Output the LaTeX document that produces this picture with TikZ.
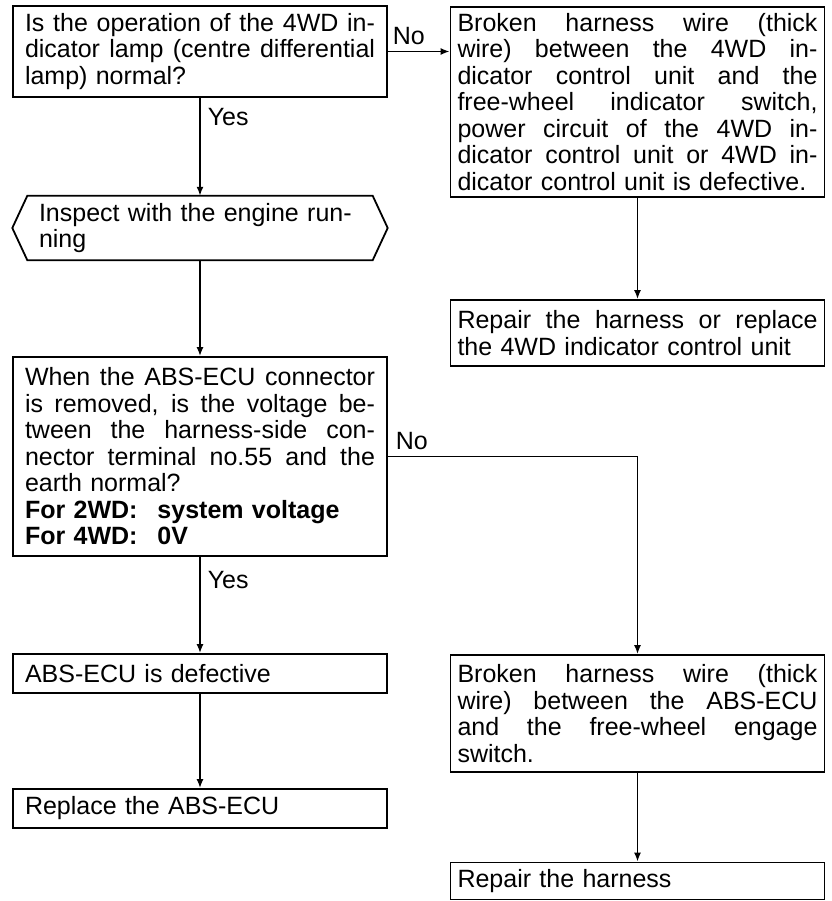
\documentclass[tikz,border=0pt]{standalone}
\usepackage{fontspec}
\setmainfont{Liberation Sans}
\usetikzlibrary{arrows.meta}
\newcommand{\jl}[1]{\makebox[\hsize][s]{\spaceskip=0.28em plus 1fil\relax #1}}
\newcommand{\fsz}{\fontsize{25}{26.5}\selectfont}
\begin{document}
\begin{tikzpicture}[x=1pt,y=-1pt,
  box/.style={draw, line width=1.8pt, rectangle, inner sep=0pt, align=left, minimum width=374pt, font=\fsz},
  lbox/.style={box, text width=350pt},
  rbox/.style={box, text width=360pt},
  conn/.style={line width=1.6pt, -{Latex[length=9pt,width=7pt]}},
  lbl/.style={inner sep=0pt, font=\fsz}]
\fill[white] (0,0) rectangle (831,901);
\useasboundingbox (0,0) rectangle (831,901);

\node[lbox, minimum height=91pt] (q1) at (200,51.5)
  {\jl{Is the operation of the 4WD in-}\\\jl{dicator lamp (centre differential}\\lamp) normal?};
\node[rbox, minimum height=190pt] (r1) at (637.5,102)
  {\jl{Broken harness wire (thick}\\\jl{wire) between the 4WD in-}\\\jl{dicator control unit and the}\\\jl{free-wheel indicator switch,}\\\jl{power circuit of the 4WD in-}\\\jl{dicator control unit or 4WD in-}\\dicator control unit is defective.};
\node[rbox, minimum height=66pt] (r2) at (637.5,333)
  {\jl{Repair the harness or replace}\\the 4WD indicator control unit};
\node[inner sep=0pt, minimum width=375pt, minimum height=64pt, text width=322pt, align=left, font=\fsz] (hex) at (200,228)
  {Inspect with the engine run-\\ning};
\draw[line width=1.8pt] (hex.west) -- ([xshift=15pt]hex.north west) -- ([xshift=-15pt]hex.north east) -- (hex.east) -- ([xshift=-15pt]hex.south east) -- ([xshift=15pt]hex.south west) -- cycle;
\node[lbox, minimum height=199pt] (q2) at (200,456.5)
  {\jl{When the ABS-ECU connector}\\\jl{is removed, is the voltage be-}\\\jl{tween the harness-side con-}\\\jl{nector terminal no.55 and the}\\earth normal?\\\textbf{\makebox[5.3em][l]{For 2WD:}system voltage}\\\textbf{\makebox[5.3em][l]{For 4WD:}0V}};
\node[lbox, minimum height=39pt] (a1) at (200,673.5) {ABS-ECU is defective};
\node[lbox, minimum height=39pt] (a2) at (200,808.5) {Replace the ABS-ECU};
\node[rbox, minimum height=117pt] (r3) at (637.5,713.5)
  {\jl{Broken harness wire (thick}\\\jl{wire) between the ABS-ECU}\\\jl{and the free-wheel engage}\\switch.};
\node[rbox, minimum height=37pt] (r4) at (637.5,881) {Repair the harness};

\draw[conn] (q1.east) -- node[lbl, anchor=south, pos=0.34, yshift=6pt]{No} (q1.east -| r1.west);
\draw[conn] (q1.south) -- node[lbl, anchor=north west, pos=0.1, xshift=7pt]{Yes} (hex.north);
\draw[conn] (r1.south) -- (r2.north);
\draw[conn] (hex.south) -- (q2.north);
\draw[conn] (q2.east) -- node[lbl, anchor=south, pos=0.096, yshift=6pt]{No} (q2.east -| r3.north) -- (r3.north);
\draw[conn] (q2.south) -- node[lbl, anchor=north west, pos=0.14, xshift=7pt]{Yes} (a1.north);
\draw[conn] (a1.south) -- (a2.north);
\draw[conn] (r3.south) -- (r4.north);
\end{tikzpicture}
\end{document}
